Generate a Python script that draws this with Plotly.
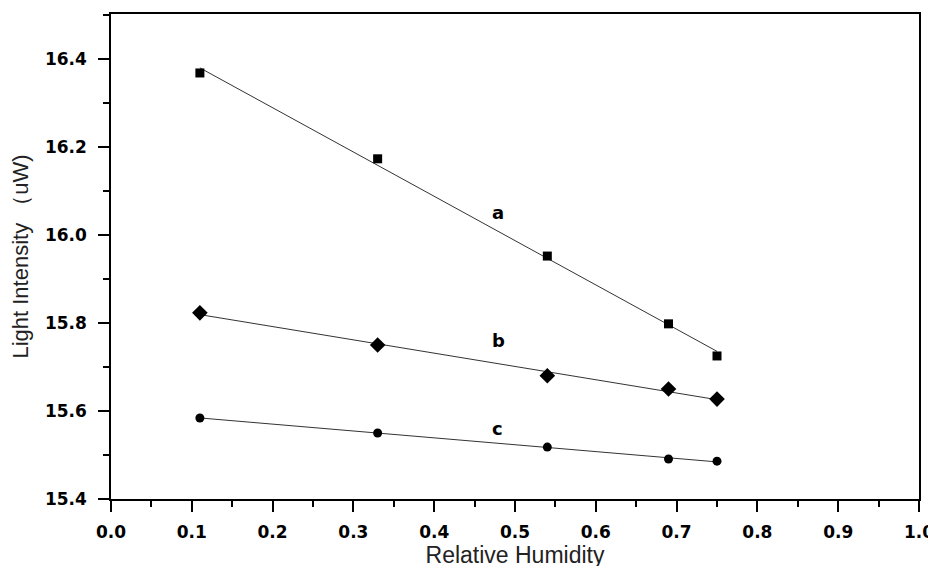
import numpy as np
import plotly.graph_objects as go

rh = [0.11, 0.33, 0.54, 0.69, 0.75]
series_a = [16.368, 16.173, 15.952, 15.798, 15.725]
series_b = [15.823, 15.750, 15.680, 15.650, 15.627]
series_c = [15.584, 15.550, 15.518, 15.491, 15.486]
labels = ["a", "b", "c"]
label_x = [0.479, 0.479, 0.478]
label_y = [16.05, 15.76, 15.56]
x_ticks = [0.0, 0.1, 0.2, 0.3, 0.4, 0.5, 0.6, 0.7, 0.8, 0.9, 1.0]
y_ticks = [15.4, 15.6, 15.8, 16.0, 16.2, 16.4]

TICKFONT = dict(family="DejaVu Sans", size=17, color="black", weight="bold")

fig = go.Figure()
markers = [("square", 9), ("diamond", 12), ("circle", 9)]
for ys, (sym, sz) in zip([series_a, series_b, series_c], markers):
    k, b0 = np.polyfit(rh, ys, 1)
    xs = [rh[0], rh[-1]]
    fig.add_trace(go.Scatter(x=xs, y=[k * v + b0 for v in xs], mode="lines",
                             line=dict(color="#333333", width=1), showlegend=False,
                             hoverinfo="skip"))
    fig.add_trace(go.Scatter(x=rh, y=ys, mode="markers",
                             marker=dict(symbol=sym, size=sz, color="black"),
                             showlegend=False))

for t, lx, ly in zip(labels, label_x, label_y):
    fig.add_annotation(x=lx, y=ly, text=t, showarrow=False,
                       font=dict(family="DejaVu Sans", size=18, color="black", weight="bold"))

axis_common = dict(showline=True, linecolor="black", linewidth=1.5, mirror=True,
                   ticks="outside", ticklen=11, tickwidth=1.5, tickcolor="black",
                   showgrid=False, zeroline=False, tickfont=TICKFONT, automargin=False)

fig.update_xaxes(range=[0, 1.0], tickvals=x_ticks, ticktext=["%.1f" % v for v in x_ticks],
                 ticklabelstandoff=6,
                 minor=dict(ticks="outside", ticklen=6, tickwidth=1.5, tickcolor="black", dtick=0.05),
                 title=dict(text="Relative Humidity", standoff=2,
                            font=dict(family="Liberation Sans, Arial", size=23, color="#222222")),
                 **axis_common)
fig.update_yaxes(range=[15.4, 16.502], tickvals=y_ticks, ticktext=["%.1f" % v for v in y_ticks],
                 ticklabelstandoff=8,
                 minor=dict(ticks="outside", ticklen=6, tickwidth=1.5, tickcolor="black", dtick=0.1),
                 title=dict(text="Light Intensity （uW)", standoff=14,
                            font=dict(family="Liberation Sans, Arial", size=22, color="#222222")),
                 **axis_common)

fig.update_layout(width=936, height=566, margin=dict(l=103, r=25, t=6, b=75),
                  plot_bgcolor="white", paper_bgcolor="white")
fig.write_html("out.html")
